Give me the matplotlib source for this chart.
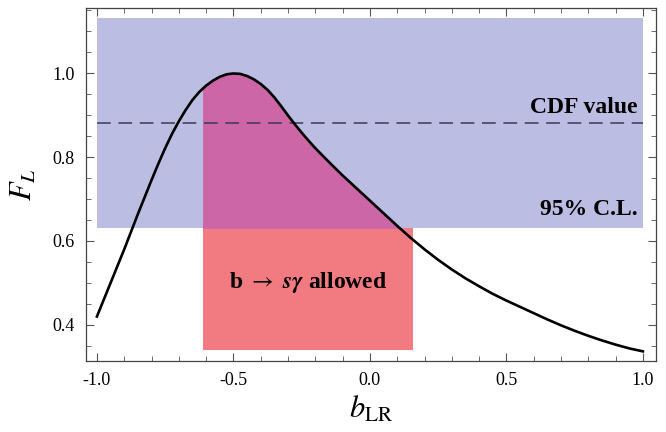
import numpy as np
import matplotlib
matplotlib.use("Agg")
import matplotlib.pyplot as plt
from matplotlib.patches import Rectangle
from matplotlib.ticker import MultipleLocator, FormatStrFormatter

# curve (denser around the peak)
b_lr = [-1.00, -0.95, -0.90, -0.85, -0.80, -0.775, -0.75, -0.725, -0.70, -0.675,
        -0.65, -0.625, -0.60, -0.575, -0.55, -0.525, -0.50, -0.475, -0.45, -0.425,
        -0.40, -0.375, -0.35, -0.325, -0.30, -0.275, -0.25, -0.225, -0.20, -0.15,
        -0.10, -0.05, 0.00, 0.05, 0.10, 0.15, 0.20, 0.25, 0.30, 0.35,
        0.40, 0.45, 0.50, 0.55, 0.60, 0.65, 0.70, 0.75, 0.80, 0.85,
        0.90, 0.95, 1.00]
f_l = [0.420, 0.500, 0.580, 0.664, 0.745, 0.784, 0.821, 0.855, 0.885, 0.912,
       0.936, 0.955, 0.970, 0.982, 0.991, 0.997, 0.999, 0.998, 0.993, 0.985,
       0.974, 0.960, 0.942, 0.921, 0.899, 0.878, 0.858, 0.839, 0.821, 0.788,
       0.756, 0.726, 0.696, 0.666, 0.636, 0.607, 0.580, 0.555, 0.532, 0.511,
       0.492, 0.474, 0.458, 0.443, 0.428, 0.413, 0.399, 0.386, 0.374, 0.363,
       0.353, 0.344, 0.337]

cdf_value = 0.88
cl95_range = [0.63, 1.13]          # blue band in F_L
cl95_x = [-1.0, 1.0]
bsg_range = [-0.61, 0.157]         # b -> s gamma allowed b_LR range
bsg_floor = 0.34

x = np.array(b_lr)
y = np.array(f_l)

plt.rcParams['font.family'] = ['Liberation Serif', 'DejaVu Serif']
plt.rcParams['mathtext.fontset'] = 'stix'

fig = plt.figure(figsize=(6.66, 4.32), dpi=100)
ax = fig.add_axes([86 / 666, 1 - 361 / 432, 570 / 666, 353 / 432])

blue = '#bcbde3'
salmon = '#f27b81'
magenta = '#cc66a6'

# 95% C.L. band
ax.add_patch(Rectangle((cl95_x[0], cl95_range[0]), cl95_x[1] - cl95_x[0],
                       cl95_range[1] - cl95_range[0], color=blue, lw=0, zorder=1))

# b -> s gamma allowed region
red_box = Rectangle((bsg_range[0], bsg_floor), bsg_range[1] - bsg_range[0],
                    cl95_range[0] - bsg_floor, color=salmon, lw=0, zorder=2)
ax.add_patch(red_box)

# overlap: under the curve inside the blue band
clip = Rectangle((bsg_range[0], cl95_range[0]), bsg_range[1] - bsg_range[0],
                 cl95_range[1] - cl95_range[0], transform=ax.transData)
poly = ax.fill_between(x, cl95_range[0], y, where=y >= cl95_range[0],
                       color=magenta, lw=0, zorder=2, interpolate=True)
poly.set_clip_path(clip)

ax.plot(cl95_x, [cdf_value, cdf_value], color='#3a3a55', lw=1.1,
        dashes=(9, 5), zorder=3)
ax.plot(x, y, color='black', lw=1.9, zorder=4, solid_joinstyle='round')

ax.text(0.982, 0.917, 'CDF value', ha='right', va='center', fontsize=17,
        fontweight='bold', zorder=5)
ax.text(0.982, 0.676, '95% C.L.', ha='right', va='center', fontsize=17,
        fontweight='bold', zorder=5)
ax.text(-0.226, 0.50, r'b $\rightarrow$ $\mathbfit{s\gamma}$ allowed',
        ha='center', va='center', fontsize=17, fontweight='bold', zorder=5)

ax.set_xlim(-1.040, 1.048)
ax.set_ylim(0.314, 1.155)

ax.xaxis.set_major_locator(MultipleLocator(0.5))
ax.xaxis.set_minor_locator(MultipleLocator(0.1))
ax.yaxis.set_major_locator(MultipleLocator(0.2))
ax.yaxis.set_minor_locator(MultipleLocator(0.05))
ax.xaxis.set_major_formatter(FormatStrFormatter('%.1f'))
ax.yaxis.set_major_formatter(FormatStrFormatter('%.1f'))
ax.tick_params(which='both', direction='in', top=True, right=True,
               labelsize=13, color='#555555')
ax.tick_params(which='major', length=6, width=0.8, pad=8)
ax.tick_params(which='minor', length=3.5, width=0.6)
for s in ax.spines.values():
    s.set_color('#444444')
    s.set_linewidth(0.9)

ax.set_xlabel(r'$b_{\mathrm{LR}}$', fontsize=22, labelpad=4)
ax.set_ylabel(r'$F_L$', fontsize=22, labelpad=10)

fig.savefig('out.png', dpi=100)
